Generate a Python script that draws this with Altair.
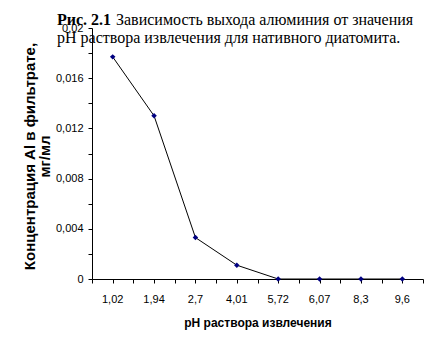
import altair as alt
import pandas as pd

# ---- data ----
ph_labels = ["1,02", "1,94", "2,7", "4,01", "5,72", "6,07", "8,3", "9,6"]
al_conc = [0.0177, 0.0130, 0.0033, 0.0011, 0.0, 0.0, 0.0, 0.0]
y_ticks = [0, 0.002, 0.004, 0.006, 0.008, 0.010, 0.012, 0.014, 0.016, 0.018, 0.02]
x_ticks = [-0.5, 0, 0.5, 1, 1.5, 2, 2.5, 3, 3.5, 4, 4.5, 5, 5.5, 6, 6.5, 7, 7.5]

title_bold = "Рис. 2.1"
title_rest = "Зависимость выхода алюминия от значения"
title_line2 = "рН раствора извлечения для нативного диатомита."
y_title = ["Концентрация Al в фильтрате,", "мг/мл"]
x_title = "рН раствора извлечения"

df = pd.DataFrame({"idx": list(range(len(ph_labels))), "ph": ph_labels, "c": al_conc})

y_label_expr = "round(datum.value * 1000) % 4 == 0 ? replace(format(datum.value, ''), '.', ',') : ''"

W, H = 331, 251

x_enc = alt.X(
    "idx:Q",
    scale=alt.Scale(domain=[-0.5, len(ph_labels) - 0.5], nice=False, zero=False),
    axis=alt.Axis(
        values=x_ticks, labels=False, title=x_title,
        grid=False, tickSize=4,
        titleY=38, titleBaseline="top", titleFontSize=12,
    ),
)
y_enc = alt.Y(
    "c:Q",
    scale=alt.Scale(domain=[0, 0.02], nice=False),
    axis=alt.Axis(
        values=y_ticks, labelExpr=y_label_expr, title=y_title,
        grid=False, tickSize=4, labelPadding=5, labelOverlap=False,
        titleX=-55, titleY=128, titleAngle=-90, titleAlign="center",
        titleBaseline="bottom", titleLineHeight=15, titleFontSize=15,
    ),
)

base = alt.Chart(df)
line = base.mark_line(color="black", strokeWidth=1).encode(x=x_enc, y=y_enc)
pts = base.mark_point(shape="diamond", filled=True, color="#000080", size=30, opacity=1).encode(
    x=x_enc, y=y_enc
)
xlabels = base.mark_text(
    align="center", baseline="middle", font="Liberation Sans", fontSize=11, color="black",
).encode(x=x_enc, y=alt.value(H + 21), text="ph:N")

tdf = pd.DataFrame({"a": [title_bold], "b": [title_rest], "l2": [title_line2]})
tb = alt.Chart(tdf).mark_text(
    align="left", baseline="alphabetic", font="Liberation Serif", fontSize=16,
    fontWeight="bold", color="black",
).encode(text="a:N", x=alt.value(-35), y=alt.value(-3))
tr = alt.Chart(tdf).mark_text(
    align="left", baseline="alphabetic", font="Liberation Serif", fontSize=16, color="black",
).encode(text="b:N", x=alt.value(24), y=alt.value(-3))
t2 = alt.Chart(tdf).mark_text(
    align="left", baseline="alphabetic", font="Liberation Serif", fontSize=16, color="black",
).encode(text="l2:N", x=alt.value(-35), y=alt.value(15))

chart = (
    alt.layer(line, pts, xlabels, tb, tr, t2)
    .properties(
        width=W, height=H,
        autosize=alt.AutoSizeParams(type="none"),
        padding={"left": 92, "top": 28, "right": 12, "bottom": 72},
        background="white",
    )
    .configure_view(stroke=None)
    .configure_axis(
        domainColor="black", tickColor="black", labelColor="black", titleColor="black",
        labelFont="Liberation Sans", labelFontSize=11,
        titleFont="Liberation Sans", titleFontWeight="bold",
        domainWidth=1, tickWidth=1,
    )
)

chart.save("out.html", embed_options={"renderer": "svg", "actions": False})
